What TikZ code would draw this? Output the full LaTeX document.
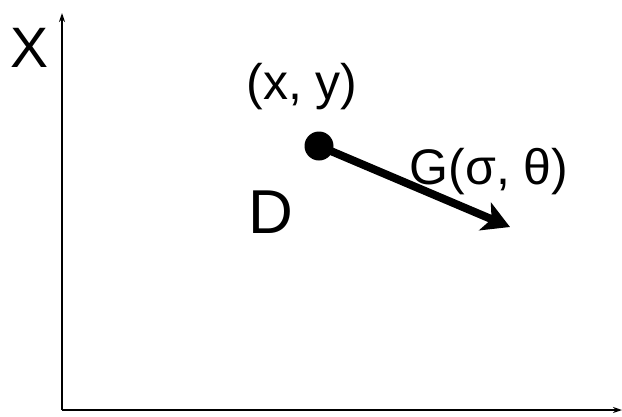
\documentclass[tikz,border=0pt]{standalone}
\usepackage{fontspec}
\setmainfont{Liberation Sans}
\usetikzlibrary{arrows.meta}
\begin{document}
\begin{tikzpicture}[x=1pt,y=-1pt,
  axis/.style={line width=1.3pt,-{Stealth[length=9pt,width=6pt]}},
  lbl/.style={inner sep=0pt,anchor=center}]
\useasboundingbox (0,0) rectangle (622,416);
\coordinate (o) at (62,410);
\coordinate (ytop) at (62,13);
\coordinate (xend) at (622,410);
\draw[axis] (o) -- (ytop);
\draw[axis] (o) -- (xend);
\node[lbl,font=\fontsize{57}{61}\selectfont] (X) at (30,48) {X};
\node[lbl,font=\fontsize{50}{54}\selectfont] (xy) at (302,87) {(x, y)};
\node[circle,fill=black,minimum size=29pt,inner sep=0pt] (dot) at (319,146) {};
\coordinate (tip) at (510,227);
\draw[line width=8pt,-{Stealth[length=27pt,width=30pt,inset=7pt]}] (dot.center) -- (tip);
\node[lbl,font=\fontsize{50}{54}\selectfont] (G) at (489,172) {G(σ, θ)};
\node[lbl,font=\fontsize{62}{66}\selectfont] (D) at (271,212) {D};
\end{tikzpicture}
\end{document}
